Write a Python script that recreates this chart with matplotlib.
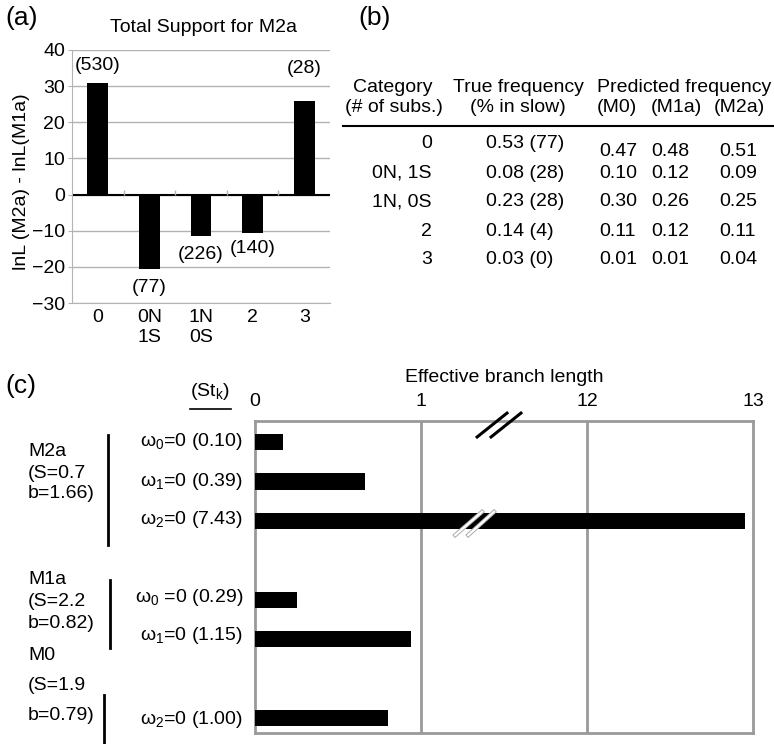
import numpy as np
import matplotlib
matplotlib.use("Agg")
import matplotlib.pyplot as plt
import matplotlib.patheffects as pe
from matplotlib.lines import Line2D
from matplotlib.transforms import blended_transform_factory

plt.rcParams["font.family"] = ["Liberation Sans", "DejaVu Sans"]
plt.rcParams["mathtext.fontset"] = "custom"
plt.rcParams["mathtext.rm"] = "Liberation Sans"
plt.rcParams["mathtext.it"] = "Liberation Sans:italic"
plt.rcParams["font.size"] = 14

W, H = 774, 744
GRID = "#b3b3b3"
FRAME = "#999999"

# ── (a) total support ─────────────────────────────────────────
support_cats = ["0", "0N\n1S", "1N\n0S", "2", "3"]
support_vals = [31.0, -20.6, -11.4, -10.5, 25.9]
support_counts = [530, 77, 226, 140, 28]

# ── (b) frequency table ──────────────────────────────────────
table_cats = ["0", "0N, 1S", "1N, 0S", "2", "3"]
true_freq = [0.53, 0.08, 0.23, 0.14, 0.03]
pct_slow = [77, 28, 28, 4, 0]
pred_m0 = [0.47, 0.10, 0.30, 0.11, 0.01]
pred_m1a = [0.48, 0.12, 0.26, 0.12, 0.01]
pred_m2a = [0.51, 0.09, 0.25, 0.11, 0.04]

# ── (c) effective branch length ──────────────────────────────
models = ["M2a", "M1a", "M0"]
model_S = [0.7, 2.2, 1.9]
model_b = [1.66, 0.82, 0.79]
omega_idx = [0, 1, 2, 0, 1, 2]
stk_values = [0.10, 0.39, 7.43, 0.29, 1.15, 1.00]
branch_len = [0.17, 0.66, 12.95, 0.25, 0.94, 0.80]
branch_rows = [0, 1, 2, 4, 5, 7]
branch_ticks = [0, 1, 12, 13]


def fx(x):
    return x / W


def fy(y):
    return 1 - y / H


fig = plt.figure(figsize=(W / 100, H / 100), dpi=100, facecolor="white")

# panel labels
fig.text(fx(5), fy(18), "(a)", fontsize=19, va="center", ha="left")
fig.text(fx(358), fy(18), "(b)", fontsize=19, va="center", ha="left")
fig.text(fx(5), fy(386), "(c)", fontsize=19, va="center", ha="left")

# ── (a) ──
ax_a = fig.add_axes([fx(72), fy(303), 258 / W, 253 / H])
xa = np.arange(len(support_vals)) + 0.5
ax_a.bar(xa, support_vals, width=0.4, color="black", zorder=3)
ax_a.set_xlim(0, len(support_vals))
ax_a.set_ylim(-30, 40)
ax_a.set_yticks(range(-30, 41, 10))
ax_a.yaxis.grid(True, color=GRID, lw=1)
ax_a.set_axisbelow(True)
ax_a.axhline(0, color="black", lw=1.5, zorder=2)
ax_a.vlines(np.arange(1, len(support_vals)), 0, 1.2, color=GRID, lw=1, zorder=2)
for s in ("top", "right"):
    ax_a.spines[s].set_visible(False)
for s in ("left", "bottom"):
    ax_a.spines[s].set_color(GRID)
ax_a.set_xticks(xa, support_cats, linespacing=1.3)
ax_a.tick_params(axis="x", length=0, pad=4, labelsize=14)
ax_a.tick_params(axis="y", length=3, color=GRID, pad=2, labelsize=14)

count_dy = [9, -18, -19, -16, 24]
for x, v, n, dy in zip(xa, support_vals, support_counts, count_dy):
    ax_a.annotate(f"({n})", (x, v), xytext=(0, dy), textcoords="offset pixels",
                  ha="center", va="bottom" if v > 0 else "center", fontsize=14)

fig.text(fx(203), fy(28), "Total Support for M2a", ha="center", va="center", fontsize=14)
fig.text(fx(22), fy(182), "lnL (M2a) - lnL(M1a)", rotation=90,
         ha="center", va="center", fontsize=14)

# ── (b) ──
hdr = dict(ha="center", va="center", fontsize=14)
fig.text(fx(393), fy(88), "Category", **hdr)
fig.text(fx(394), fy(107), "(# of subs.)", **hdr)
fig.text(fx(518), fy(88), "True frequency", **hdr)
fig.text(fx(518), fy(107), "(% in slow)", **hdr)
fig.text(fx(684), fy(88), "Predicted frequency", **hdr)
fig.text(fx(617), fy(107), "(M0)", **hdr)
fig.text(fx(676), fy(107), "(M1a)", **hdr)
fig.text(fx(739), fy(107), "(M2a)", **hdr)
fig.add_artist(Line2D([fx(343), fx(773)], [fy(126), fy(126)], color="black", lw=1.5))

row_y = [143, 173, 202, 232, 260]
pred_y = [152, 173, 202, 232, 260]
for i, cat in enumerate(table_cats):
    fig.text(fx(432), fy(row_y[i]), cat, ha="right", va="center", fontsize=14)
    fig.text(fx(486), fy(row_y[i]), f"{true_freq[i]:.2f} ({pct_slow[i]})",
             ha="left", va="center", fontsize=14)
    for cx, col in zip([618, 670, 738], [pred_m0, pred_m1a, pred_m2a]):
        fig.text(fx(cx), fy(pred_y[i]), f"{col[i]:.2f}", ha="center", va="center", fontsize=14)

# ── (c) ──
def fwd(v):
    v = np.asarray(v, dtype=float)
    return np.where(v <= 1, v, np.where(v <= 12, 1 + (v - 1) / 11, v - 10))


def inv(u):
    u = np.asarray(u, dtype=float)
    return np.where(u <= 1, u, np.where(u <= 2, 1 + (u - 1) * 11, u + 10))


ax_c = fig.add_axes([fx(255), fy(733), 498 / W, 312 / H])
ax_c.set_xscale("function", functions=(fwd, inv))
ax_c.set_xlim(0, 13)
ax_c.set_ylim(7.37, -0.53)
ax_c.barh(branch_rows, branch_len, height=0.41, color="black", zorder=3)
for t in branch_ticks[1:-1]:
    ax_c.axvline(t, color=FRAME, lw=2, zorder=1)
for s in ax_c.spines.values():
    s.set_color(FRAME)
    s.set_linewidth(2)
ax_c.xaxis.tick_top()
ax_c.xaxis.set_label_position("top")
ax_c.set_xticks(branch_ticks, [str(t) for t in branch_ticks])
ax_c.xaxis.set_minor_locator(matplotlib.ticker.NullLocator())
ax_c.tick_params(axis="x", length=0, pad=8, labelsize=14)
ax_c.set_yticks([])
ax_c.set_xlabel("Effective branch length", fontsize=14, labelpad=8)

# axis break marks
tr = blended_transform_factory(ax_c.transAxes, ax_c.transData)
for x0, x1 in [(0.446, 0.506), (0.474, 0.534)]:
    ax_c.plot([x0, x1], [-0.125, -0.73], transform=tr, color="black",
              lw=2.2, clip_on=False, zorder=5)
for x0, x1 in [(0.402, 0.456), (0.428, 0.480)]:
    ax_c.plot([x0, x1], [2.36, 1.77], transform=tr, color="white", lw=1.6,
              zorder=5, path_effects=[pe.Stroke(linewidth=3, foreground="#aaaaaa"), pe.Normal()])

# St_k column header
fig.text(fx(210), fy(391), r"(St$_{\rm k}$)", ha="center", va="center", fontsize=14)
fig.add_artist(Line2D([fx(190), fx(231)], [fy(409), fy(409)], color="black", lw=1.2))

# omega labels
omega_y = [442, 482, 520, 597, 635, 720]
for k, (w, st, y) in enumerate(zip(omega_idx, stk_values, omega_y)):
    gap = " " if k == 3 else ""
    fig.text(fx(243), fy(y), f"ω$_{{{w}}}${gap}=0 ({st:.2f})",
             ha="right", va="center", fontsize=14)

# model groups
group_lines_y = [[452, 473, 493], [580, 601, 623], [655, 686, 716]]
group_bar = [(108, 435, 545), (110, 580, 648), (104, 695, 744)]
for name, S, b, ys, (bx, y0, y1) in zip(models, model_S, model_b, group_lines_y, group_bar):
    for txt, y in zip([name, f"(S={S}", f"b={b:.2f})"], ys):
        fig.text(fx(28), fy(y), txt, ha="left", va="center", fontsize=14)
    fig.add_artist(Line2D([fx(bx), fx(bx)], [fy(y0), fy(y1)], color="black", lw=2))

fig.savefig("out.png", dpi=100, facecolor="white")
